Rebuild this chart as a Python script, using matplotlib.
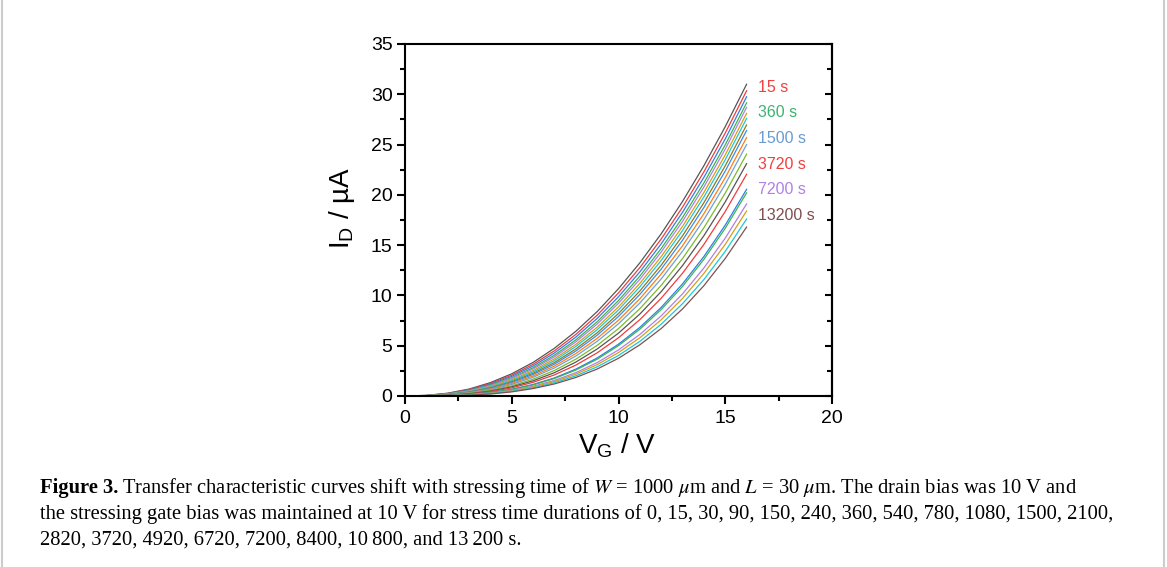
import matplotlib.pyplot as plt
from matplotlib.ticker import MultipleLocator

# gate voltage samples (V)
vg = [0, 1, 2, 3, 4, 5, 6, 7, 8, 9, 10, 11, 12, 13, 14, 15, 16]

# drain current (uA), one list per stress time
id_0 = [0, 0.06, 0.28, 0.69, 1.33, 2.21, 3.34, 4.75, 6.43, 8.39, 10.67, 13.24, 16.13, 19.35, 22.90, 26.78, 31.00]
id_15 = [0, 0.05, 0.25, 0.64, 1.24, 2.07, 3.15, 4.50, 6.12, 8.03, 10.25, 12.77, 15.61, 18.78, 22.29, 26.15, 30.35]
id_30 = [0, 0.05, 0.23, 0.59, 1.16, 1.95, 2.98, 4.28, 5.85, 7.71, 9.87, 12.34, 15.13, 18.27, 21.74, 25.56, 29.75]
id_90 = [0, 0.04, 0.21, 0.54, 1.08, 1.82, 2.81, 4.06, 5.58, 7.38, 9.49, 11.92, 14.66, 17.75, 21.19, 24.98, 29.15]
id_150 = [0, 0.04, 0.19, 0.51, 1.02, 1.74, 2.69, 3.90, 5.38, 7.15, 9.22, 11.60, 14.32, 17.37, 20.78, 24.55, 28.70]
id_240 = [0, 0.03, 0.17, 0.46, 0.94, 1.62, 2.53, 3.70, 5.13, 6.84, 8.86, 11.20, 13.86, 16.87, 20.24, 23.98, 28.10]
id_360 = [0, 0.03, 0.16, 0.43, 0.88, 1.53, 2.40, 3.52, 4.92, 6.59, 8.56, 10.86, 13.48, 16.46, 19.79, 23.50, 27.60]
id_540 = [0, 0.03, 0.14, 0.39, 0.81, 1.42, 2.26, 3.33, 4.67, 6.28, 8.20, 10.44, 13.01, 15.93, 19.22, 22.89, 26.95]
id_780 = [0, 0.02, 0.13, 0.36, 0.76, 1.34, 2.14, 3.17, 4.47, 6.04, 7.91, 10.10, 12.62, 15.49, 18.74, 22.37, 26.40]
id_1080 = [0, 0.02, 0.12, 0.33, 0.70, 1.24, 1.99, 2.98, 4.22, 5.73, 7.54, 9.67, 12.13, 14.94, 18.13, 21.71, 25.70]
id_1500 = [0, 0.02, 0.10, 0.30, 0.64, 1.15, 1.86, 2.79, 3.97, 5.43, 7.18, 9.24, 11.64, 14.40, 17.53, 21.06, 25.00]
id_2100 = [0, 0.02, 0.09, 0.26, 0.56, 1.02, 1.67, 2.54, 3.66, 5.03, 6.70, 8.68, 11.00, 13.67, 16.73, 20.18, 24.05]
id_2820 = [0, 0.01, 0.07, 0.22, 0.49, 0.91, 1.51, 2.32, 3.37, 4.67, 6.25, 8.15, 10.38, 12.97, 15.94, 19.30, 23.10]
id_3720 = [0, 0.01, 0.06, 0.19, 0.43, 0.81, 1.36, 2.10, 3.07, 4.29, 5.79, 7.59, 9.72, 12.21, 15.07, 18.35, 22.05]
id_4920 = [0, 0.01, 0.05, 0.15, 0.35, 0.67, 1.15, 1.80, 2.67, 3.78, 5.15, 6.82, 8.81, 11.15, 13.87, 16.99, 20.55]
id_6720 = [0, 0.01, 0.04, 0.14, 0.33, 0.64, 1.10, 1.74, 2.58, 3.66, 5.01, 6.64, 8.60, 10.90, 13.59, 16.68, 20.20]
id_7200 = [0, 0.01, 0.03, 0.12, 0.28, 0.56, 0.97, 1.55, 2.32, 3.32, 4.58, 6.12, 7.97, 10.16, 12.73, 15.70, 19.10]
id_8400 = [0, 0.00, 0.03, 0.11, 0.26, 0.51, 0.90, 1.44, 2.17, 3.12, 4.32, 5.79, 7.58, 9.70, 12.19, 15.08, 18.40]
id_10800 = [0, 0.00, 0.03, 0.09, 0.23, 0.46, 0.81, 1.32, 2.00, 2.90, 4.03, 5.43, 7.14, 9.18, 11.58, 14.38, 17.60]
id_13200 = [0, 0.00, 0.02, 0.08, 0.20, 0.41, 0.74, 1.20, 1.84, 2.68, 3.75, 5.09, 6.71, 8.66, 10.97, 13.68, 16.80]

curves = [id_0, id_15, id_30, id_90, id_150, id_240, id_360, id_540, id_780, id_1080,
          id_1500, id_2100, id_2820, id_3720, id_4920, id_6720, id_7200, id_8400,
          id_10800, id_13200]

line_colors = ['#555555', '#f03c3c', '#2f7fe8', '#3cb44b', '#b07fe8', '#d4a017',
               '#1cc8d8', '#8c7a1e', '#3a8cf0', '#ff7f0e', '#6fa0d8', '#7cba2a',
               '#555555', '#f03c3c', '#2f7fe8', '#3cb44b', '#b07fe8', '#d4a017',
               '#1cc8d8', '#7f5050']

# time labels on the right
label_text = ['15 s', '360 s', '1500 s', '3720 s', '7200 s', '13200 s']
label_y = [30.7, 28.15, 25.6, 23.05, 20.5, 17.9]
label_colors = ['#f04040', '#3cb371', '#6a9bd1', '#f04040', '#b07fe8', '#7f4f4f']

plt.rcParams['font.family'] = ['Liberation Sans', 'DejaVu Sans']

fig = plt.figure(figsize=(11.67, 5.67), dpi=100)
ax = fig.add_axes([405 / 1167, 1 - 396 / 567, 427 / 1167, 352 / 567])

for ys, c in zip(curves, line_colors):
    ax.plot(vg, ys, color=c, lw=0.9)

for t, y, c in zip(label_text, label_y, label_colors):
    ax.text(16.55, y, t, color=c, fontsize=11.5, ha='left', va='center')

ax.set_xlim(0, 20)
ax.set_ylim(0, 35)
ax.xaxis.set_major_locator(MultipleLocator(5))
ax.xaxis.set_minor_locator(MultipleLocator(2.5))
ax.yaxis.set_major_locator(MultipleLocator(5))
ax.yaxis.set_minor_locator(MultipleLocator(2.5))

for s in ax.spines.values():
    s.set_linewidth(1.5)

ax.tick_params(which='both', direction='out', width=1.5, labelsize=14)
ax.tick_params(which='major', length=6, pad=3)
ax.tick_params(which='minor', length=3.5)
ax.tick_params(axis='x', pad=4)

# right axis: ticks pointing inward, no labels
rax = ax.secondary_yaxis('right')
rax.yaxis.set_major_locator(MultipleLocator(5))
rax.yaxis.set_minor_locator(MultipleLocator(2.5))
rax.tick_params(which='both', direction='in', width=1.5, labelright=False)
rax.tick_params(which='major', length=5)
rax.tick_params(which='minor', length=3.5)
rax.spines['right'].set_linewidth(1.5)

ax.set_xlabel(r'$\mathregular{V_G}$ / V', fontsize=20)
ax.set_ylabel(r'$\mathregular{I_D}$ / µA', fontsize=20)
ax.xaxis.set_label_coords(0.497, -0.1)
ax.yaxis.set_label_coords(-0.112, 0.534)

# caption
serif = ['Liberation Serif', 'DejaVu Serif']
cap_size = 14.8
x0 = 40 / 1167
t1 = fig.text(x0, 1 - 493 / 567, 'Figure 3.', family=serif, weight='bold',
              fontsize=cap_size, va='baseline')
fig.canvas.draw()
bb = t1.get_window_extent()
fig.text((bb.x1 + 4) / 1167, 1 - 493 / 567,
         r'Transfer characteristic curves shift with stressing time of $W$ = 1000 $\mu$m and '
         r'$L$ = 30 $\mu$m. The drain bias was 10 V and',
         family=serif, fontsize=cap_size, va='baseline', math_fontfamily='stix')
fig.text(x0, 1 - 519 / 567,
         'the stressing gate bias was maintained at 10 V for stress time durations of 0, 15, 30, 90, '
         '150, 240, 360, 540, 780, 1080, 1500, 2100,',
         family=serif, fontsize=cap_size, va='baseline')
fig.text(x0, 1 - 545 / 567,
         '2820, 3720, 4920, 6720, 7200, 8400, 10\u2009800, and 13\u2009200 s.',
         family=serif, fontsize=cap_size, va='baseline')

# page frame lines at the sides
fig.add_artist(plt.Line2D([2 / 1167, 2 / 1167], [0, 1], color='#cccccc', lw=1.5))
fig.add_artist(plt.Line2D([1164 / 1167, 1164 / 1167], [0, 1], color='#cccccc', lw=1.5))

fig.savefig('out.png', dpi=100)
